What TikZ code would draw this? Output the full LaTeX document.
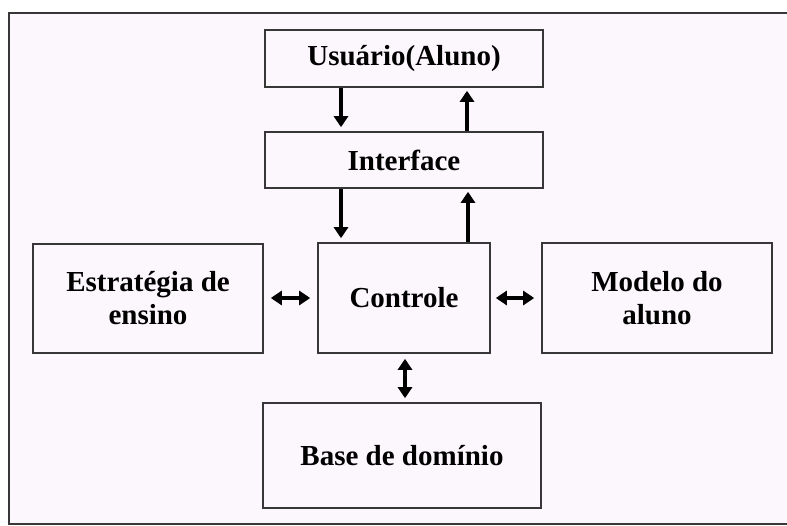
\documentclass[tikz,border=0pt]{standalone}
\usepackage{fontspec}
\setmainfont{Liberation Serif}
\usepackage{xcolor}
\usepackage{tikz}
\usetikzlibrary{arrows.meta}
\definecolor{paper}{RGB}{252,247,252}
\definecolor{edge}{RGB}{55,55,55}
\tikzstyle{block}=[rectangle,draw=edge,line width=1.6pt,align=center,inner sep=0pt,font=\fontsize{29}{33}\selectfont\bfseries]
\tikzstyle{link}=[line width=3.8pt,-{Triangle[width=14pt,length=11pt]}]
\tikzstyle{both}=[line width=3.8pt,{Triangle[width=14pt,length=11pt]}-{Triangle[width=14pt,length=11pt]}]

\begin{document}
\begin{tikzpicture}[x=1pt,y=-1pt]
        \useasboundingbox (0,0) rectangle (787,525);
        \clip (0,0) rectangle (787,525);
        \fill [white] (0,0) rectangle (787,525);
        \draw [edge,line width=2pt,fill=paper] (9,13) rectangle (800,524);

        \node at (404,58.5) [block,minimum width=278pt,minimum height=57pt]  (user)  {Usuário(Aluno)};
        \node at (404,160)  [block,minimum width=278pt,minimum height=56pt]  (iface) {Interface};
        \node at (404,298)  [block,minimum width=172pt,minimum height=110pt] (ctrl)  {Controle};
        \node at (148,298.5)[block,minimum width=230pt,minimum height=109pt] (strat) {Estratégia de\\ensino};
        \node at (657,298)  [block,minimum width=230pt,minimum height=110pt] (model) {Modelo do\\aluno};
        \node at (402,455.5)[block,minimum width=278pt,minimum height=105pt] (base)  {Base de domínio};

        \draw [link,shorten >=4pt] ([xshift=-63pt]user.south) -- ([xshift=-63pt]iface.north);
        \draw [link,shorten >=3pt] ([xshift=63pt]iface.north) -- ([xshift=63pt]user.south);
        \draw [link,shorten >=4pt] ([xshift=-63pt]iface.south) -- ([xshift=-63pt]iface.south |- ctrl.north);
        \draw [link,shorten >=3pt] ([xshift=64pt]ctrl.north) -- ([xshift=64pt]ctrl.north |- iface.south);
        \draw [both,shorten <=7pt,shorten >=7pt] (strat.east |- ctrl.west) -- (ctrl.west);
        \draw [both,shorten <=5pt,shorten >=7pt] (ctrl.east) -- (model.west);
        \draw [both,shorten <=5pt,shorten >=4pt] ([xshift=1pt]ctrl.south) -- ([xshift=1pt]ctrl.south |- base.north);
      \end{tikzpicture}
\end{document}
